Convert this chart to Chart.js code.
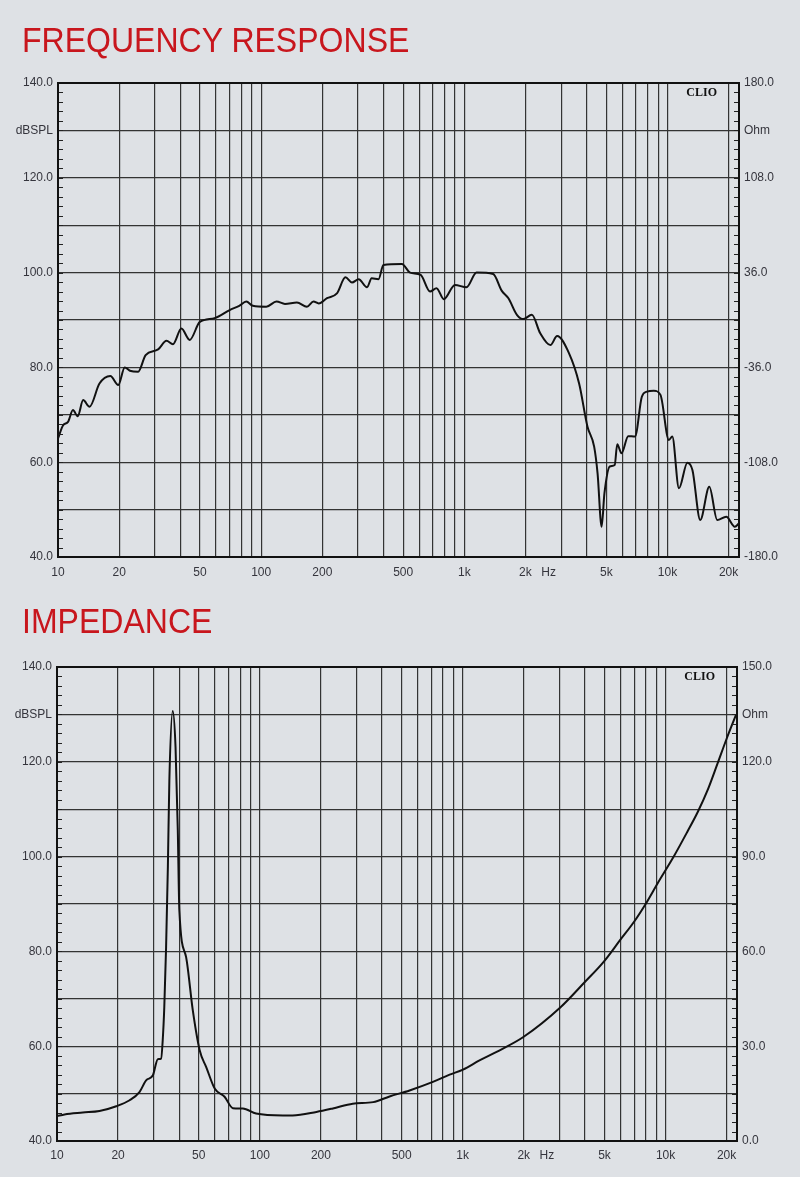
<!DOCTYPE html>
<html>
<head>
<meta charset="utf-8">
<script src="https://cdn.jsdelivr.net/npm/chart.js@4/dist/chart.umd.min.js"></script>
<style>
html,body{margin:0;padding:0;background:#dee1e5;}
body{width:800px;height:1177px;position:relative;overflow:hidden;font-family:"Liberation Sans",Arial,sans-serif;}
.title{position:absolute;left:22px;color:#c8161d;font-size:35px;line-height:1;transform-origin:0 0;transform:scaleX(0.915);white-space:nowrap;z-index:2;}
.wrap{position:absolute;left:0;width:800px;}
canvas{display:block;}
</style>
</head>
<body>
<div class="title" style="top:22px">FREQUENCY RESPONSE</div>
<div class="title" style="top:603px">IMPEDANCE</div>
<div class="wrap" style="top:0;height:600px"><canvas id="c1" width="800" height="600"></canvas></div>
<div class="wrap" style="top:590px;height:587px"><canvas id="c2" width="800" height="587"></canvas></div>
<script>
// ---------- DATA ----------
const FR_FREQ = [10,10.6,11.2,11.85,12.5,13.3,14.3,16.0,18.1,19.8,21.3,22.6,24.8,27.0,31.1,34.2,36.8,40.5,44.5,49.9,59,70,78,84.5,91,106,119,131,150,168,181,192,211,236,260,280,302,332,350,378,400,493,541,610,678,730,793,899,1025,1149,1387,1527,1649,1815,1955,2150,2365,2653,2863,3274,3674,4040,4357,4530,4742,4895,5200,5500,5660,5940,6410,6923,7480,7930,8560,9240,10160,10560,11390,12530,13280,14500,16070,17580,19470,21460,22500];
const FR_DB   = [65.0,67.8,68.5,71.0,69.7,73.1,71.7,76.6,78.2,76.3,80.0,79.3,79.1,82.6,83.8,85.6,84.9,88.2,85.8,89.6,90.4,92.1,93.0,93.9,93.0,92.8,93.9,93.4,93.7,92.8,93.9,93.5,94.6,95.6,99.0,97.9,98.6,96.9,98.8,98.6,101.6,101.8,100.0,99.5,96.0,96.7,94.4,97.4,96.9,100.0,99.7,96.2,94.6,91.1,90.2,91.1,87.2,84.7,86.6,83.0,76.6,67.5,63.3,57.6,46.4,53.4,59.1,59.4,63.8,61.9,65.5,65.4,73.8,74.9,75.1,74.2,64.7,65.4,54.5,59.9,58.3,47.8,54.8,47.8,48.5,46.4,47.1];

const IMP_FREQ = [10,10.9,13.4,16.2,19.6,22.8,25.5,27.5,29.7,31.4,32.6,33.2,33.8,34.5,35.2,35.8,37.2,38.4,39.4,40.1,43.3,46.7,50.5,54.4,60,67,73.6,82.5,95.8,130,145,190,229,287,362,436,547,713,862,1003,1210,1469,1991,3045,4000,4940,5990,6980,7990,9130,10990,12790,14410,16230,18030,20000,22290];
const IMP_OHM  = [7.9,8.4,9.0,9.5,11.0,12.9,15.5,19.2,20.8,25.9,26.1,31.9,42.4,61.4,86.7,114.1,136.1,124.7,98.3,73.0,58.2,41.4,28.7,23.4,16.5,14.0,10.4,10.3,8.7,8.1,8.1,9.2,10.3,11.8,12.3,14.1,16.0,18.7,21.0,22.6,25.5,28.2,32.9,42.4,50.3,56.6,63.7,69.3,75.1,81.5,90.1,97.8,104.1,111.5,119.4,127.3,135.0];

const X_GRID = [10,20,30,40,50,60,70,80,90,100,200,300,400,500,600,700,800,900,1000,2000,3000,4000,5000,6000,7000,8000,9000,10000,20000];
const X_TICK_VALUES = [10,20,50,100,200,500,1000,2000,5000,10000,20000];
const X_TICK_LABELS = ['10','20','50','100','200','500','1k','2k','5k','10k','20k'];
const Y_GRID = [40,50,60,70,80,90,100,110,120,130,140];
const Y_LABEL_VALUES = [40,60,80,100,120,140];
const Y_UNIT_VALUE = 130;
const Y_UNIT = 'dBSPL';
const FR_RIGHT_TICKS = [-180,-108,-36,36,108,180];
const FR_RIGHT_UNIT_VALUE = 144;
const IMP_RIGHT_TICKS = [0,30,60,90,120,150];
const IMP_RIGHT_UNIT_VALUE = 135;
const RIGHT_UNIT = 'Ohm';
const X_UNIT = 'Hz';
const X_UNIT_POS = 2600;
const WATERMARK = 'CLIO';

// ---------- STYLE ----------
const FONT = '"Liberation Sans", Arial, sans-serif';
const TXT = '#35353d';
const GRID = '#333333';

const decor = {
  id: 'decor',
  afterDraw(chart) {
    const {ctx, chartArea: a, scales} = chart;
    ctx.save();
    ctx.strokeStyle = '#222';
    ctx.lineWidth = 1;
    for (let v = 40; v <= 140; v += 2) {
      const y = Math.round(scales.y.getPixelForValue(v)) + 0.5;
      ctx.beginPath();
      ctx.moveTo(a.left, y); ctx.lineTo(a.left + 5, y);
      ctx.moveTo(a.right - 5, y); ctx.lineTo(a.right, y);
      ctx.stroke();
    }
    ctx.lineWidth = 2;
    ctx.strokeStyle = '#111';
    ctx.strokeRect(a.left, a.top, a.right - a.left, a.bottom - a.top);
    ctx.fillStyle = TXT;
    ctx.font = '12px ' + FONT;
    ctx.textAlign = 'center';
    ctx.textBaseline = 'middle';
    const xs = scales.x;
    const ly = a.bottom + chart.options.scales.x.ticks.padding + 7.2;
    ctx.fillText(X_UNIT, xs.getPixelForValue(X_UNIT_POS), ly);
    ctx.fillStyle = '#111';
    ctx.font = 'bold 12px "Liberation Serif", serif';
    ctx.textAlign = 'right';
    ctx.textBaseline = 'top';
    ctx.fillText(WATERMARK, a.right - 22, a.top + 4);
    ctx.restore();
  }
};

function makeChart(id, cfg) {
  const data = cfg.freq.map((f, i) => ({x: f, y: cfg.vals[i]}));
  return new Chart(document.getElementById(id), {
    type: 'line',
    data: {datasets: [{
      data, yAxisID: cfg.axis, borderColor: '#111', borderWidth: 2,
      pointRadius: 0, fill: false, cubicInterpolationMode: 'monotone'
    }]},
    plugins: [decor],
    options: {
      responsive: false, animation: false, devicePixelRatio: 1,
      layout: {padding: {top: cfg.top, left: 0, right: 0, bottom: 0}},
      plugins: {legend: {display: false}, tooltip: {enabled: false}},
      scales: {
        x: {
          type: 'logarithmic', position: 'bottom', min: 10, max: 22500,
          afterBuildTicks: s => { s.ticks = X_GRID.map(v => ({value: v})); },
          afterFit: s => { s.height = cfg.xh; },
          grid: {color: GRID, lineWidth: 1.2, drawTicks: false},
          border: {display: false},
          ticks: {autoSkip: false, maxRotation: 0, padding: cfg.xpad, color: TXT,
            font: {size: 12, family: FONT},
            callback: v => { const i = X_TICK_VALUES.indexOf(v); return i >= 0 ? X_TICK_LABELS[i] : ''; }}
        },
        y: {
          position: 'left', min: 40, max: 140,
          afterBuildTicks: s => { s.ticks = Y_GRID.map(v => ({value: v})); },
          afterFit: s => { s.width = cfg.lw; },
          grid: {color: GRID, lineWidth: 1.2, drawTicks: false},
          border: {display: false},
          ticks: {padding: 5, color: TXT, font: {size: 12, family: FONT},
            callback: v => v === Y_UNIT_VALUE ? Y_UNIT : (Y_LABEL_VALUES.includes(v) ? v.toFixed(1) : '')}
        },
        y2: {
          position: 'right', min: cfg.rmin, max: cfg.rmax,
          afterBuildTicks: s => { s.ticks = cfg.rticks.concat([cfg.runit]).sort((p, q) => p - q).map(v => ({value: v})); },
          afterFit: s => { s.width = cfg.rw; },
          grid: {display: false, drawTicks: false},
          border: {display: false},
          ticks: {padding: 5, color: TXT, font: {size: 12, family: FONT},
            callback: v => v === cfg.runit ? RIGHT_UNIT : v.toFixed(1)}
        }
      }
    }
  });
}

makeChart('c1', {freq: FR_FREQ, vals: FR_DB, axis: 'y', top: 83, xh: 43, xpad: 8, lw: 58, rw: 61,
  rmin: -180, rmax: 180, rticks: FR_RIGHT_TICKS, runit: FR_RIGHT_UNIT_VALUE});
makeChart('c2', {freq: IMP_FREQ, vals: IMP_OHM, axis: 'y2', top: 77, xh: 36, xpad: 7, lw: 57, rw: 63,
  rmin: 0, rmax: 150, rticks: IMP_RIGHT_TICKS, runit: IMP_RIGHT_UNIT_VALUE});
</script>
</body>
</html>
